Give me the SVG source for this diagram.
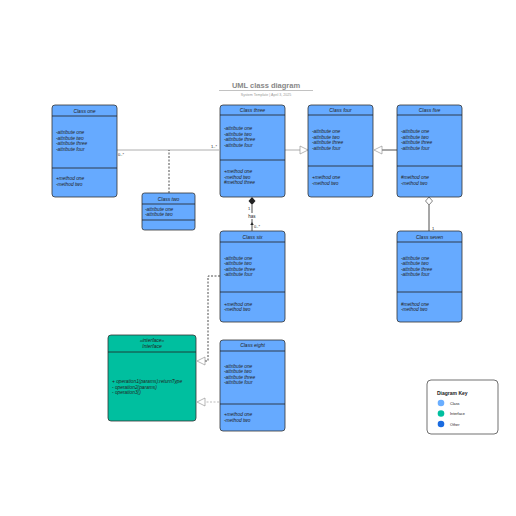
<svg xmlns="http://www.w3.org/2000/svg" width="516" height="516" viewBox="0 0 516 516">
<defs>
<style>
text{font-family:"Liberation Sans",Arial,sans-serif;fill:#222;}
.box{fill:#66aaff;stroke:#333;stroke-width:0.8;}
.ibox{fill:#00bf9f;stroke:#333;stroke-width:0.8;}
.div{stroke:#222;stroke-width:0.8;}
.t{font-size:5px;font-style:italic;text-anchor:middle;}
.a{font-size:4.8px;font-style:italic;}
.lbl{font-size:4.8px;}
.conn{fill:none;stroke:#999;stroke-width:0.8;}
.dark{fill:none;stroke:#222;stroke-width:0.8;}
.dash{fill:none;stroke:#222;stroke-width:0.8;stroke-dasharray:2,1.5;}
.gdash{fill:none;stroke:#aaa;stroke-width:0.8;stroke-dasharray:2,1.5;}
.tri{fill:#fff;stroke:#888;stroke-width:0.6;}
</style>
</defs>
<rect width="516" height="516" fill="#fff"/>
<g id="title">
<text x="266" y="88" style="font-size:7.5px;font-weight:bold;fill:#888;text-anchor:middle">UML class diagram</text>
<line x1="219" y1="90.5" x2="313" y2="90.5" stroke="#999" stroke-width="0.6"/>
<text x="266" y="95.5" style="font-size:3.6px;fill:#999;text-anchor:middle">System Template  |  April 3, 2025</text>
</g>
<g id="connectors">
<line class="conn" x1="117" y1="150" x2="219" y2="150"/>
<path class="dash" d="M169,193 V150"/>
<text x="118" y="156" class="lbl" style="font-size:4px">0..*</text>
<text x="211" y="148" class="lbl" style="font-size:4px">1..*</text>
<line class="conn" x1="285" y1="150" x2="300" y2="150"/>
<polygon class="tri" points="300,146 308,150 300,154"/>
<line class="dark" x1="397" y1="150" x2="382" y2="150"/>
<polygon class="tri" points="382,146 374,150 382,154"/>
<path d="M252,197 L255.5,201 L252,205 L248.5,201 Z" fill="#222"/>
<line class="dark" x1="252" y1="205" x2="252" y2="231"/>
<rect x="246" y="213" width="12" height="6" fill="#fff"/>
<text x="252" y="218" class="lbl" style="text-anchor:middle;font-size:4.5px">has</text>
<text x="248" y="210" class="lbl" style="font-size:4px">1</text>
<text x="254" y="228" class="lbl" style="font-size:4px">0..*</text>
<path d="M250.5,225 L252,222.5 L253.5,225" fill="#222" stroke="#222" stroke-width="0.4"/>
<path d="M429,197 L432.5,201 L429,205 L425.5,201 Z" fill="#fff" stroke="#333" stroke-width="0.6"/>
<line class="dark" x1="429" y1="205" x2="429" y2="231"/>
<text x="432" y="229.5" class="lbl" style="font-size:4px">1</text>
<path class="dash" d="M220,276 H208 V361 H205"/>
<polygon class="tri" points="205,357 197,361 205,365"/>
<path class="gdash" d="M219,402 H205"/>
<polygon class="tri" points="205,398 197,402 205,406"/>
</g>
<g id="class-one">
<rect class="box" x="52" y="105" width="65" height="92" rx="3"/>
<line class="div" x1="52" y1="116" x2="117" y2="116"/>
<line class="div" x1="52" y1="168" x2="117" y2="168"/>
<text class="t" x="84.5" y="112.5">Class one</text>
<text class="a" x="56" y="134">-attribute one</text>
<text class="a" x="56" y="139.5">-attribute two</text>
<text class="a" x="56" y="145">-attribute  three</text>
<text class="a" x="56" y="150.5">-attribute four</text>
<text class="a" x="56" y="180">+method one</text>
<text class="a" x="56" y="185.5">-method two</text>
</g>
<g id="class-three">
<rect class="box" x="220" y="105" width="65" height="92" rx="3"/>
<line class="div" x1="220" y1="115" x2="285" y2="115"/>
<line class="div" x1="220" y1="160" x2="285" y2="160"/>
<text class="t" x="252.5" y="112">Class three</text>
<text class="a" x="224" y="130">-attribute one</text>
<text class="a" x="224" y="135.5">-attribute two</text>
<text class="a" x="224" y="141">-attribute  three</text>
<text class="a" x="224" y="146.5">-attribute four</text>
<text class="a" x="224" y="173">+method one</text>
<text class="a" x="224" y="178.5">-method two</text>
<text class="a" x="224" y="184">#method three</text>
</g>
<g id="class-four">
<rect class="box" x="308" y="105" width="65" height="92" rx="3"/>
<line class="div" x1="308" y1="115" x2="373" y2="115"/>
<line class="div" x1="308" y1="166" x2="373" y2="166"/>
<text class="t" x="340.5" y="112">Class four</text>
<text class="a" x="312" y="133">-attribute one</text>
<text class="a" x="312" y="138.5">-attribute two</text>
<text class="a" x="312" y="144">-attribute  three</text>
<text class="a" x="312" y="149.5">-attribute four</text>
<text class="a" x="312" y="179">+method one</text>
<text class="a" x="312" y="184.5">-method two</text>
</g>
<g id="class-five">
<rect class="box" x="397" y="105" width="65" height="92" rx="3"/>
<line class="div" x1="397" y1="115" x2="462" y2="115"/>
<line class="div" x1="397" y1="166" x2="462" y2="166"/>
<text class="t" x="429.5" y="112">Class five</text>
<text class="a" x="401" y="133">-attribute one</text>
<text class="a" x="401" y="138.5">-attribute two</text>
<text class="a" x="401" y="144">-attribute three</text>
<text class="a" x="401" y="149.5">-attribute four</text>
<text class="a" x="401" y="179">#method one</text>
<text class="a" x="401" y="184.5">-method two</text>
</g>
<g id="class-two">
<rect class="box" x="142" y="193" width="53" height="37" rx="2.5"/>
<line class="div" x1="142" y1="204" x2="195" y2="204"/>
<line class="div" x1="142" y1="220" x2="195" y2="220"/>
<text class="t" x="168.5" y="200.5">Class two</text>
<text class="a" x="145" y="210.5">-attribute one</text>
<text class="a" x="145" y="216">-attribute two</text>
</g>
<g id="class-six">
<rect class="box" x="220" y="231" width="65" height="91" rx="3"/>
<line class="div" x1="220" y1="242" x2="285" y2="242"/>
<line class="div" x1="220" y1="292" x2="285" y2="292"/>
<text class="t" x="252.5" y="238.5">Class six</text>
<text class="a" x="224" y="259.5">-attribute one</text>
<text class="a" x="224" y="265">-attribute two</text>
<text class="a" x="224" y="270.5">-attribute  three</text>
<text class="a" x="224" y="276">-attribute four</text>
<text class="a" x="224" y="305.5">+method one</text>
<text class="a" x="224" y="311">-method two</text>
</g>
<g id="class-seven">
<rect class="box" x="397" y="231" width="65" height="91" rx="3"/>
<line class="div" x1="397" y1="242" x2="462" y2="242"/>
<line class="div" x1="397" y1="292" x2="462" y2="292"/>
<text class="t" x="429.5" y="238.5">Class seven</text>
<text class="a" x="401" y="259.5">-attribute one</text>
<text class="a" x="401" y="265">-attribute two</text>
<text class="a" x="401" y="270.5">-attribute three</text>
<text class="a" x="401" y="276">-attribute four</text>
<text class="a" x="401" y="305.5">#method one</text>
<text class="a" x="401" y="311">-method two</text>
</g>
<g id="interface">
<rect class="ibox" x="108" y="335" width="88" height="86" rx="3"/>
<line class="div" x1="108" y1="352" x2="196" y2="352"/>
<text class="t" x="152" y="342">«interface»</text>
<text class="t" x="152" y="347.5">Interface</text>
<text class="a" x="112" y="383">+ operation1(params):returnType</text>
<text class="a" x="112" y="388.5">- operation2(params)</text>
<text class="a" x="112" y="394">- operation3()</text>
</g>
<g id="class-eight">
<rect class="box" x="220" y="340" width="65" height="91" rx="3"/>
<line class="div" x1="220" y1="351" x2="285" y2="351"/>
<line class="div" x1="220" y1="404" x2="285" y2="404"/>
<text class="t" x="252.5" y="346.5">Class eight</text>
<text class="a" x="224" y="367.5">-attribute one</text>
<text class="a" x="224" y="373">-attribute two</text>
<text class="a" x="224" y="378.5">-attribute  three</text>
<text class="a" x="224" y="384">-attribute four</text>
<text class="a" x="224" y="416">+method one</text>
<text class="a" x="224" y="421.5">-method two</text>
</g>
<g id="diagram-key">
<rect x="427" y="380" width="71" height="54" rx="4" fill="#fff" stroke="#333" stroke-width="0.7"/>
<text x="437" y="394.5" style="font-size:5px;font-weight:bold">Diagram Key</text>
<circle cx="441" cy="403" r="3.3" fill="#6aaeff"/>
<text x="450" y="404.8" style="font-size:3.8px">Class</text>
<circle cx="441" cy="413.5" r="3.3" fill="#00bf9f"/>
<text x="450" y="415.3" style="font-size:3.8px">Interface</text>
<circle cx="441" cy="424" r="3.3" fill="#1a6be0"/>
<text x="450" y="425.8" style="font-size:3.8px">Other</text>
</g>
</svg>
